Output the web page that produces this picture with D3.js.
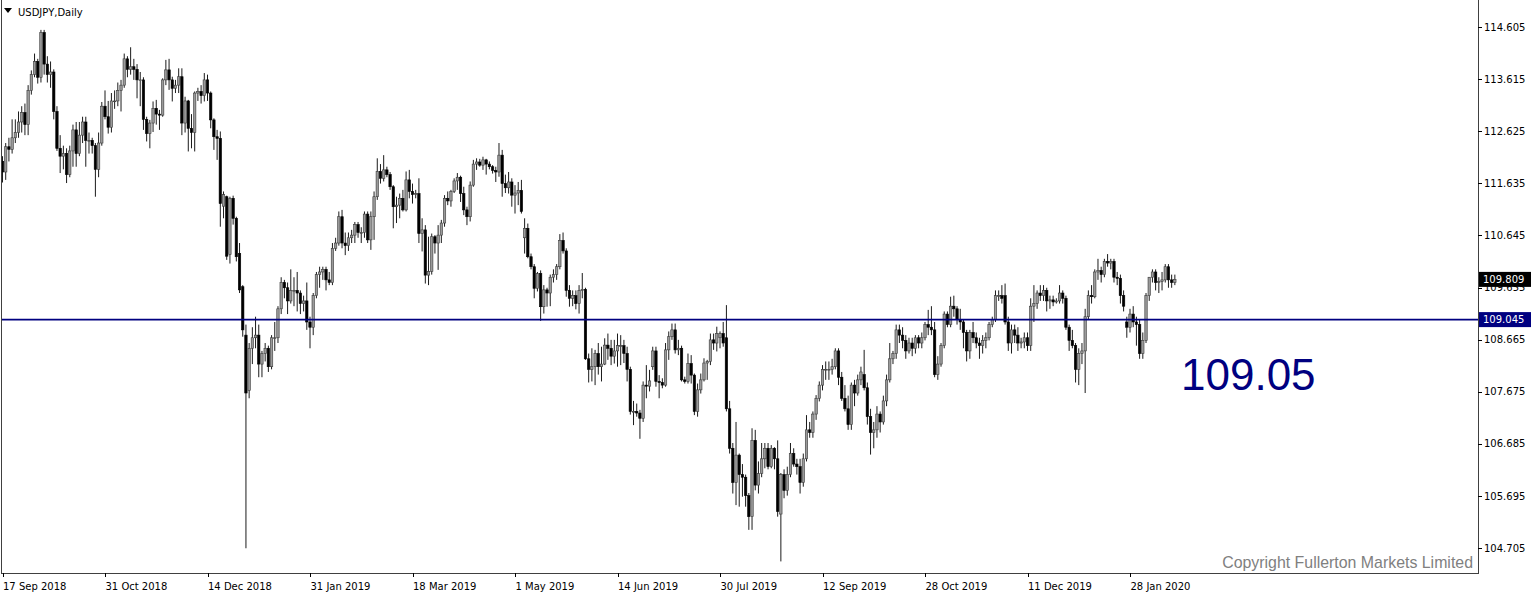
<!DOCTYPE html>
<html><head><meta charset="utf-8">
<script src="https://cdn.jsdelivr.net/npm/d3@7"></script>
<style>html,body{margin:0;padding:0;background:#fff;overflow:hidden}</style>
</head><body><svg id="c" width="1536" height="597"></svg>
<script>
// ---------------- DATA ----------------
const symbolTitle = "USDJPY,Daily";
const opens = [
112.05,111.85,112.33,112.28,112.50,112.60,112.80,112.98,112.75,113.40,
113.70,113.95,113.65,114.50,113.90,113.70,113.75,113.00,112.30,112.15,
112.20,111.80,112.25,112.65,112.20,112.55,112.80,112.45,112.45,112.35,
111.90,112.40,113.10,112.90,112.70,113.20,113.20,113.40,113.50,114.00,
113.80,113.85,113.80,113.60,113.60,112.85,112.58,112.78,113.06,112.95,
112.93,113.60,113.79,113.60,113.44,113.50,113.66,112.78,113.20,112.68,
112.60,113.35,113.38,113.30,113.60,113.35,112.84,112.52,112.49,111.20,
111.38,110.28,111.35,110.97,110.30,109.67,108.75,107.70,108.50,108.70,
108.75,108.20,108.40,108.50,108.15,108.70,108.70,109.25,109.75,109.65,
109.40,109.60,109.60,109.55,109.35,109.40,109.00,108.90,109.50,109.90,
109.95,110.00,109.80,109.75,110.40,110.50,111.00,110.50,110.45,110.60,
110.65,110.85,110.70,110.70,111.05,110.56,111.00,111.38,111.86,111.73,
111.89,111.80,111.57,111.19,111.22,111.35,111.13,111.70,111.48,111.42,
111.44,110.68,110.75,109.89,109.96,110.62,110.50,110.65,110.88,111.35,
111.30,111.48,111.68,111.75,111.44,111.13,111.00,111.60,112.00,112.04,
111.98,112.08,112.00,111.95,111.88,111.85,112.17,111.63,111.55,111.66,
111.41,111.45,111.50,110.60,110.78,110.24,110.05,109.64,109.92,109.29,
109.61,109.55,109.85,109.90,110.05,110.55,110.35,109.60,109.45,109.50,
109.35,109.60,109.62,108.30,108.10,108.15,108.40,108.15,108.20,108.56,
108.50,108.35,108.45,108.55,108.55,108.40,108.10,107.30,107.30,107.27,
107.17,107.80,107.78,108.15,108.45,107.87,107.85,107.80,108.47,108.72,
108.85,108.47,108.50,107.90,107.87,108.21,107.99,107.30,107.71,107.90,
108.22,108.25,108.66,108.60,108.70,108.78,108.70,107.35,106.60,105.95,
106.47,106.10,106.05,105.70,105.30,106.75,105.90,106.12,106.40,106.60,
106.25,106.60,106.40,105.35,106.10,105.80,106.10,106.50,106.30,106.25,
105.95,106.40,106.95,106.90,107.25,107.55,107.80,108.10,108.10,108.10,
108.15,108.45,107.95,107.55,107.35,107.05,107.80,107.65,107.90,108.00,
107.75,107.20,106.90,106.95,107.25,107.10,107.50,107.90,108.30,108.40,
108.85,108.75,108.65,108.45,108.60,108.50,108.70,108.60,108.70,108.95,
108.90,108.85,108.00,108.20,108.55,109.15,108.95,109.30,109.25,109.05,
109.00,108.80,108.45,108.80,108.70,108.60,108.55,108.65,108.70,108.95,
109.05,109.50,109.50,109.50,109.00,108.60,108.85,108.75,108.60,108.62,
108.70,108.55,109.30,109.35,109.55,109.50,109.60,109.40,109.42,109.38,
109.40,109.55,109.45,108.90,108.65,108.55,108.10,108.40,108.45,109.10,
109.50,109.48,109.95,109.98,109.90,110.15,110.12,110.15,109.85,109.83,
109.50,109.00,108.90,109.15,109.00,108.95,108.40,108.65,109.50,109.85,
109.95,109.75,109.77,109.80,110.05,109.80,109.75];
const highs = [
112.15,112.40,112.50,112.85,112.85,113.00,113.10,113.15,113.50,113.78,
114.10,114.00,114.55,114.55,114.05,113.95,113.80,113.10,112.55,112.35,
112.30,112.35,112.75,112.80,112.80,112.90,112.90,112.60,112.50,112.40,
112.60,113.18,113.40,113.20,113.35,113.40,113.55,113.60,114.10,114.05,
114.22,114.00,113.90,113.75,113.65,112.90,112.84,113.19,113.22,113.03,
113.63,113.98,114.00,113.66,113.60,113.82,113.82,113.28,113.22,112.95,
113.38,113.45,113.50,113.73,113.70,113.38,112.87,112.65,112.62,111.48,
111.40,111.38,111.40,111.00,110.50,109.70,108.95,108.60,108.90,109.10,
108.95,108.45,108.60,108.55,108.75,109.00,109.30,109.85,109.80,109.75,
110.00,109.85,109.95,109.60,109.50,109.75,109.10,109.55,109.95,110.05,
110.05,110.05,109.95,110.50,110.60,111.10,111.13,110.70,110.70,110.75,
110.90,110.90,110.80,111.10,111.10,111.10,111.48,112.11,112.00,112.17,
111.95,111.85,111.60,111.38,111.44,111.51,111.86,111.89,111.63,111.51,
111.73,110.97,110.84,110.62,110.68,110.65,110.84,110.94,111.41,111.48,
111.51,111.73,111.83,111.78,111.57,111.19,111.67,112.08,112.11,112.10,
112.14,112.10,112.05,111.98,111.95,112.40,112.27,111.80,111.85,111.73,
111.60,111.66,111.70,110.97,110.87,110.30,110.10,109.95,109.98,109.70,
109.65,109.90,110.00,110.10,110.67,110.70,110.40,109.70,109.60,109.60,
109.70,109.93,109.65,108.40,108.50,108.47,108.60,108.53,108.69,108.78,
108.66,108.66,108.78,108.75,108.66,108.53,108.15,107.50,107.45,107.33,
107.87,108.18,108.09,108.53,108.53,107.99,107.93,108.60,108.82,108.97,
108.97,108.66,108.55,107.96,108.40,108.37,108.02,107.83,108.02,108.31,
108.28,108.78,108.78,108.91,108.82,109.00,109.32,107.50,106.70,107.10,
106.50,106.30,106.10,105.75,106.98,106.95,106.35,106.70,106.70,106.70,
106.66,106.62,106.75,106.13,106.20,106.25,106.70,106.60,106.40,106.40,
106.50,107.23,107.10,107.30,107.61,107.87,108.18,108.25,108.25,108.30,
108.50,108.50,108.05,107.80,107.60,107.85,107.90,108.00,108.15,108.47,
107.85,107.35,107.10,107.40,107.30,107.60,108.00,108.60,108.45,108.95,
108.95,108.90,108.75,108.70,108.70,108.75,108.75,108.80,109.00,109.23,
109.30,109.00,108.35,108.60,109.20,109.20,109.48,109.50,109.30,109.25,
109.05,108.85,108.85,109.00,108.80,108.70,108.75,108.80,109.00,109.10,
109.60,109.60,109.70,109.73,109.10,108.95,108.95,108.90,108.70,108.80,
108.80,109.45,109.70,109.60,109.70,109.70,109.65,109.50,109.50,109.45,
109.70,109.60,109.50,108.95,108.85,108.60,108.50,108.60,109.25,109.60,
109.70,110.00,110.20,110.05,110.20,110.29,110.20,110.20,109.95,109.90,
109.60,109.10,109.25,109.30,109.10,109.05,108.80,109.55,109.85,110.00,
110.00,109.85,109.95,110.10,110.10,109.90,109.90];
const lows = [
111.65,111.70,112.05,112.20,112.40,112.50,112.60,112.55,112.55,113.32,
113.65,113.53,113.55,113.70,113.55,113.45,112.85,112.25,111.83,111.90,
111.64,111.75,111.95,111.95,112.15,112.40,111.95,112.20,112.20,111.38,
111.75,112.35,112.85,112.58,112.60,113.05,113.10,113.00,113.45,113.65,
113.70,113.60,113.25,113.10,112.65,112.43,112.30,112.61,112.75,112.65,
112.90,113.50,113.41,113.19,113.35,113.35,112.55,112.60,112.24,112.30,
112.24,113.20,113.15,113.19,113.20,112.68,112.27,112.08,110.81,110.97,
110.18,110.11,110.85,110.15,109.55,108.72,104.70,107.55,108.20,108.50,
107.95,107.95,108.25,108.05,108.10,108.45,108.60,109.15,109.45,109.15,
109.35,109.30,109.20,109.15,109.20,108.85,108.50,108.75,109.45,109.65,
109.80,109.60,109.70,109.70,110.35,110.45,110.40,110.27,110.35,110.50,
110.50,110.60,110.50,110.60,110.50,110.37,110.56,111.32,111.63,111.67,
111.75,111.51,110.78,110.88,110.97,111.10,111.10,111.35,111.25,111.35,
110.50,110.34,109.73,109.70,109.90,110.30,109.99,110.50,110.81,111.22,
111.19,111.45,111.51,111.28,111.03,110.84,110.91,111.57,111.89,111.95,
111.89,111.80,111.90,111.82,111.66,111.76,111.38,111.45,111.44,111.19,
111.06,111.22,111.06,110.30,110.21,110.00,109.45,109.58,109.02,109.16,
109.29,109.30,109.75,109.80,110.00,110.30,109.48,109.29,109.30,109.24,
109.16,109.45,108.28,107.85,107.87,107.80,108.00,107.87,108.18,108.28,
108.18,108.21,108.15,108.18,108.22,107.87,107.24,107.04,107.20,106.78,
107.10,107.55,107.68,108.09,107.77,107.55,107.74,107.77,108.28,108.66,
108.40,108.37,107.87,107.83,107.83,107.83,107.23,107.20,107.64,107.87,
107.90,108.18,108.47,108.44,108.50,108.53,107.30,106.50,105.74,105.52,
105.49,105.68,105.49,105.05,105.05,105.80,105.74,106.05,106.22,106.20,
106.22,106.20,105.30,104.45,105.65,105.70,106.05,106.25,106.10,105.74,
105.87,106.35,106.80,106.80,107.14,107.49,107.70,107.90,107.90,108.00,
108.10,107.80,107.50,107.30,106.95,106.95,107.40,107.60,107.80,107.70,
107.05,106.48,106.60,106.80,106.90,107.05,107.40,107.85,108.20,108.30,
108.60,108.50,108.30,108.40,108.35,108.40,108.50,108.50,108.65,108.75,
108.75,107.95,107.90,108.15,108.50,108.90,108.90,109.10,108.95,108.85,
108.50,108.25,108.30,108.60,108.50,108.30,108.40,108.50,108.65,108.90,
109.00,109.40,109.35,108.95,108.45,108.40,108.60,108.45,108.50,108.50,
108.45,108.45,109.00,109.25,109.40,109.40,109.20,109.25,109.30,109.35,
109.35,109.35,108.85,108.45,108.50,107.85,107.80,108.20,107.65,109.05,
109.35,109.45,109.80,109.75,109.85,110.05,110.00,109.75,109.70,109.35,
109.20,108.70,108.80,108.90,108.55,108.30,108.30,108.60,109.40,109.75,
109.60,109.55,109.60,109.75,109.65,109.65,109.70];
const closes = [
111.85,112.33,112.28,112.50,112.60,112.80,112.98,112.75,113.40,113.70,
113.95,113.65,114.50,113.90,113.70,113.75,113.00,112.30,112.15,112.20,
111.80,112.25,112.65,112.20,112.55,112.80,112.45,112.45,112.35,111.90,
112.40,113.10,112.90,112.70,113.20,113.20,113.40,113.50,114.00,113.80,
113.85,113.80,113.60,113.60,112.85,112.58,112.78,113.06,112.95,112.93,
113.60,113.79,113.60,113.44,113.50,113.66,112.78,113.20,112.68,112.60,
113.35,113.38,113.30,113.60,113.35,112.84,112.52,112.49,111.25,111.42,
110.25,111.35,110.97,110.24,109.61,108.85,107.65,108.50,108.70,108.75,
108.20,108.40,108.50,108.15,108.70,108.70,109.25,109.75,109.65,109.40,
109.60,109.60,109.55,109.35,109.40,109.00,108.90,109.50,109.90,109.95,
110.00,109.80,109.75,110.40,110.50,111.00,110.50,110.45,110.60,110.65,
110.85,110.70,110.70,111.05,110.56,111.00,111.38,111.86,111.73,111.89,
111.80,111.57,111.19,111.22,111.35,111.13,111.70,111.48,111.42,111.44,
110.68,110.75,109.89,109.96,110.62,110.50,110.65,110.88,111.35,111.30,
111.48,111.68,111.75,111.44,111.13,111.00,111.60,112.00,112.04,111.98,
112.08,112.00,111.95,111.88,111.85,112.17,111.63,111.55,111.66,111.41,
111.45,111.50,111.10,110.78,110.24,110.05,109.64,109.92,109.29,109.61,
109.55,109.85,109.90,110.05,110.55,110.35,109.60,109.45,109.50,109.35,
109.60,109.62,108.30,108.10,108.15,108.40,108.15,108.20,108.56,108.50,
108.35,108.45,108.55,108.55,108.40,108.10,107.30,107.30,107.27,107.17,
107.80,107.78,107.88,108.45,107.87,107.85,107.80,108.47,108.72,108.85,
108.47,108.50,107.90,107.87,108.21,107.99,107.30,107.71,107.90,108.22,
108.25,108.66,108.60,108.78,108.78,108.60,107.35,106.60,105.95,106.47,
106.10,106.05,105.70,105.30,106.75,105.90,106.12,106.40,106.60,106.25,
106.60,106.40,105.40,106.10,105.80,106.10,106.50,106.30,106.25,105.95,
106.40,106.95,106.90,107.25,107.55,107.80,108.10,108.10,108.10,108.15,
108.45,107.95,107.55,107.35,107.05,107.80,107.65,107.90,108.05,107.75,
107.20,106.90,106.95,107.25,107.10,107.50,107.90,108.30,108.40,108.85,
108.75,108.65,108.45,108.60,108.50,108.70,108.60,108.70,108.95,108.90,
108.85,108.00,108.20,108.55,109.15,108.95,109.30,109.25,109.05,109.00,
108.80,108.45,108.80,108.70,108.60,108.55,108.65,108.70,108.95,109.05,
109.50,109.50,109.45,109.00,108.60,108.85,108.75,108.60,108.62,108.70,
108.55,109.30,109.35,109.55,109.50,109.60,109.40,109.42,109.38,109.40,
109.55,109.45,108.90,108.65,108.55,108.10,108.40,108.45,109.10,109.50,
109.48,109.95,109.98,109.90,110.15,110.12,110.15,109.85,109.83,109.50,
109.30,108.90,109.15,109.00,108.95,108.40,108.65,109.50,109.85,109.95,
109.75,109.77,109.80,110.05,109.80,109.75,109.81];
const xLabels = ["17 Sep 2018","31 Oct 2018","14 Dec 2018","31 Jan 2019","18 Mar 2019","1 May 2019",
                 "14 Jun 2019","30 Jul 2019","12 Sep 2019","28 Oct 2019","11 Dec 2019","28 Jan 2020"];
const xLabelBars = [0,32,64,96,128,160,192,224,256,288,320,352];
const yTicks = [114.605,113.615,112.625,111.635,110.645,109.655,108.665,107.675,106.685,105.695,104.705];
const lastPrice = 109.809;
const levelPrice = 109.045;
const levelText = "109.05";
const copyright = "Copyright Fullerton Markets Limited";

// ---------------- DRAW ----------------
const svg = d3.select("#c");
const plotL = 2, plotR = 1478, plotT = 0, plotB = 573;
const x = d3.scaleLinear().domain([0, 352]).range([2.5, 1130]);
const y = d3.scaleLinear().domain([104.705, 114.605]).range([548, 27]);
const FONT = "DejaVu Sans, Verdana, sans-serif";

svg.append("rect").attr("width",1536).attr("height",597).attr("fill","#fff");

svg.append("defs").append("clipPath").attr("id","clip")
  .append("rect").attr("x",plotL).attr("y",plotT).attr("width",plotR-plotL).attr("height",plotB-plotT);

const n = Math.min(opens.length, highs.length, lows.length, closes.length);
const bars = d3.range(n).map(i => ({i, o:opens[i], h:highs[i], l:lows[i], c:closes[i]}));

const g = svg.append("g").attr("clip-path","url(#clip)");
g.selectAll("line.w").data(bars).enter().append("line")
  .attr("x1", d => x(d.i)).attr("x2", d => x(d.i))
  .attr("y1", d => y(d.h)).attr("y2", d => y(d.l))
  .attr("stroke","#000").attr("stroke-width",0.9);
const bw = 2.4;
g.selectAll("rect.b").data(bars).enter().append("rect")
  .attr("x", d => x(d.i) - bw/2)
  .attr("y", d => y(Math.max(d.o,d.c)))
  .attr("width", bw)
  .attr("height", d => Math.max(0.8, Math.abs(y(d.o) - y(d.c))))
  .attr("fill", d => d.c >= d.o ? "#9a9a9a" : "#000")
  .attr("stroke", d => d.c >= d.o ? "#3a3a3a" : "#000").attr("stroke-width",0.6);

// level line
svg.append("line").attr("x1",plotL).attr("x2",plotR)
  .attr("y1",y(levelPrice)).attr("y2",y(levelPrice))
  .attr("stroke","#000080").attr("stroke-width",1.6);

// frame
svg.append("rect").attr("x",plotL-0.5).attr("y",plotT-0.5).attr("width",plotR-plotL+1).attr("height",plotB-plotT+1)
  .attr("fill","none").attr("stroke","#404040").attr("stroke-width",1);

// y axis ticks & labels
const ya = svg.append("g");
yTicks.forEach(t => {
  ya.append("line").attr("x1",plotR).attr("x2",plotR+4).attr("y1",Math.round(y(t))+0.5).attr("y2",Math.round(y(t))+0.5)
    .attr("stroke","#000");
  ya.append("text").attr("x",plotR+6).attr("y",y(t)).attr("dy","0.36em")
    .attr("font-family",FONT).attr("font-size",10).attr("fill","#000").text(t.toFixed(3));
});

// price boxes
function priceBox(p, bg){
  const yy = y(p);
  svg.append("rect").attr("x",plotR+1).attr("y",yy-7.5).attr("width",52).attr("height",15).attr("fill",bg);
  svg.append("text").attr("x",plotR+5).attr("y",yy).attr("dy","0.36em")
    .attr("font-family",FONT).attr("font-size",10).attr("fill","#fff").text(p.toFixed(3));
}
priceBox(lastPrice, "#000");
priceBox(levelPrice, "#000080");

// x axis
xLabelBars.forEach((b,k) => {
  svg.append("line").attr("x1",Math.round(x(b))+0.5).attr("x2",Math.round(x(b))+0.5)
    .attr("y1",plotB).attr("y2",plotB+4).attr("stroke","#000");
  svg.append("text").attr("x",x(b)+0.5).attr("y",plotB+17)
    .attr("font-family",FONT).attr("font-size",10).attr("fill","#000").text(xLabels[k]);
});

// title
svg.append("path").attr("d","M4,8 L12,8 L8,13 Z").attr("fill","#000");
svg.append("text").attr("x",18).attr("y",16).attr("font-family",FONT).attr("font-size",10)
  .attr("fill","#000").text(symbolTitle);

// big level text
svg.append("text").attr("x",1181).attr("y",390).attr("font-family","Liberation Sans, Arial, sans-serif")
  .attr("font-size",44).attr("fill","#000080").text(levelText);

// copyright
svg.append("text").attr("x",1473).attr("y",568).attr("text-anchor","end")
  .attr("font-family","Liberation Sans, Arial, sans-serif").attr("font-size",15.9)
  .attr("fill","#808080").text(copyright);
</script>
</body></html>
